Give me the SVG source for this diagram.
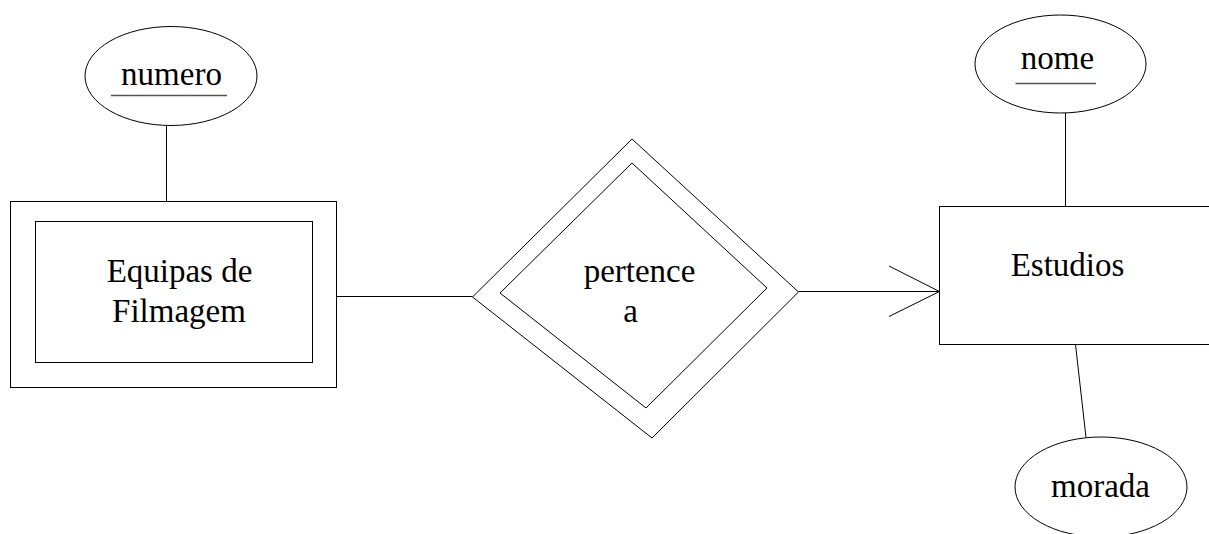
<svg xmlns="http://www.w3.org/2000/svg" width="1209" height="534" viewBox="0 0 1209 534">
<style>
.s{fill:#fff;stroke:#000;stroke-width:1}
.c{fill:none;stroke:#000;stroke-width:1}
.t{font-family:'Liberation Serif';font-size:33px;fill:#000;text-anchor:middle}
.u{stroke:#555;stroke-width:1.3}
</style>
<rect width="1209" height="534" fill="#fff"/>
<g id="connectors">
<line class="c" x1="166.5" y1="125" x2="166.5" y2="201.5"/>
<line class="c" x1="336.5" y1="296.5" x2="472.5" y2="296.5"/>
<line class="c" x1="798.5" y1="291.5" x2="939.5" y2="291.5"/>
<polyline class="c" points="889,266 939.5,291.5 889,316.5"/>
<line class="c" x1="1065.5" y1="113" x2="1065.5" y2="206.5"/>
<line class="c" x1="1075.5" y1="344.5" x2="1086" y2="437.5"/>
</g>
<g id="numero">
<ellipse class="s" cx="171" cy="76" rx="86" ry="49.5"/>
<text class="t" x="171.5" y="85">numero</text>
<line class="u" x1="111" y1="95.5" x2="227" y2="95.5"/>
</g>
<g id="equipas">
<rect class="s" x="10.5" y="201.5" width="326" height="186"/>
<rect class="s" x="35.5" y="221.5" width="277" height="141"/>
<text class="t" x="179.5" y="282">Equipas de</text>
<text class="t" x="179" y="321.5">Filmagem</text>
</g>
<g id="pertence">
<polygon class="s" points="632,139 798.5,292 652,438 472.5,297"/>
<polygon class="s" points="632,163 767,288 646,408 500,293"/>
<text class="t" x="639.5" y="281.5">pertence</text>
<text class="t" x="630.5" y="321.5">a</text>
</g>
<g id="estudios">
<rect class="s" x="939.5" y="206.5" width="300" height="138"/>
<text class="t" x="1067.5" y="276">Estudios</text>
</g>
<g id="nome">
<ellipse class="s" cx="1060.5" cy="64" rx="85.5" ry="49"/>
<text class="t" x="1057.5" y="69">nome</text>
<line class="u" x1="1015.5" y1="83.5" x2="1096" y2="83.5"/>
</g>
<g id="morada">
<ellipse class="s" cx="1101" cy="487" rx="86" ry="50"/>
<text class="t" x="1100.5" y="497">morada</text>
</g>
</svg>
